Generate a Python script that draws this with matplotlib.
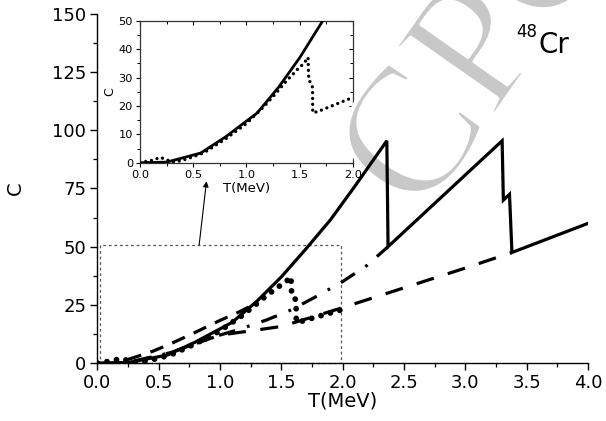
import matplotlib
matplotlib.use("Agg")
import matplotlib.pyplot as plt
import matplotlib.patheffects as pe
from matplotlib.ticker import MultipleLocator

plt.rcParams['font.family'] = ['DejaVu Sans']
plt.rcParams['lines.scale_dashes'] = False

# Specific heat C(T) of 48Cr in different approaches
t_exact = [0.0, 0.25, 0.57, 0.8, 1.1, 1.3, 1.5, 1.7, 1.9, 2.1, 2.36, 2.37, 3.30, 3.31, 3.36, 3.38, 4.0]
c_exact = [0.0, 0.2, 3.4, 9.0, 17.5, 26.5, 37.0, 49.0, 61.5, 76.0, 95.5, 50.0, 95.5, 70.0, 72.5, 47.5, 60.0]

t_bcs = [0.0, 0.12, 0.19, 0.3, 0.36, 0.43, 0.5, 0.6, 0.8, 1.0, 1.17, 1.275, 1.375, 1.48, 1.54, 1.578,
         1.585, 1.61, 1.62, 1.622, 1.67, 1.8, 2.0]
c_bcs = [0.0, 0.9, 1.9, 0.3, 0.5, 1.2, 2.1, 3.5, 8.3, 13.8, 20.0, 24.4, 28.8, 32.9, 35.0, 37.1,
         29.0, 27.9, 26.5, 17.6, 18.0, 20.0, 23.0]

t_upper = [0.25, 0.45, 0.6, 0.8, 1.0, 1.15, 1.3]
c_upper = [1.5, 5.0, 8.3, 13.2, 18.3, 21.8, 25.8]

t_mid = [0.3, 0.6, 0.8, 1.0, 1.16, 1.38, 1.58, 1.8, 2.0, 2.2, 2.37]
c_mid = [0.8, 4.5, 8.3, 12.0, 14.5, 18.5, 22.8, 29.0, 35.0, 42.0, 50.0]

t_low = [0.3, 0.6, 0.8, 1.0, 1.25, 1.5, 1.75, 2.0, 2.5, 3.0, 3.38]
c_low = [0.8, 4.5, 8.3, 12.0, 13.8, 15.7, 19.7, 23.8, 32.3, 40.8, 47.5]

x_ticks_main = [0.0, 0.5, 1.0, 1.5, 2.0, 2.5, 3.0, 3.5, 4.0]
y_ticks_main = [0, 25, 50, 75, 100, 125, 150]
x_ticks_inset = [0.0, 0.5, 1.0, 1.5, 2.0]
y_ticks_inset = [0, 10, 20, 30, 40, 50]

fig = plt.figure(figsize=(6.06, 4.21), dpi=100)
fig.patch.set_facecolor('white')

# light background lettering: above the inset, below the main curves;
# a thin white outline over the fill keeps the strokes light
fig.text(0.80, 0.875, 'CPC', fontsize=132, family='Liberation Serif', color='#c8c8c8',
         rotation=55, rotation_mode='anchor', ha='center', va='center', zorder=1,
         path_effects=[pe.Normal(), pe.Stroke(linewidth=3, foreground='white')])

ax = fig.add_axes([0.1606, 0.1378, 0.8097, 0.829], zorder=2)
ax.set_facecolor('none')
ax.plot(t_exact, c_exact, color='black', lw=2.3, solid_joinstyle='miter', zorder=5)
ax.plot(t_bcs, c_bcs, color='black', lw=4.2, linestyle=(0, (0.01, 7.0)),
        dash_capstyle='round', zorder=4)
ax.plot(t_upper, c_upper, color='black', lw=2.3, linestyle=(0, (10, 7)), zorder=3)
ax.plot(t_mid, c_mid, color='black', lw=2.3, linestyle=(0, (12, 9, 2, 9)), zorder=3)
ax.plot(t_low, c_low, color='black', lw=2.3, linestyle=(0, (13, 10.5)), zorder=3)

# region shown enlarged in the inset
ax.plot([0.02, 1.99, 1.99, 0.02, 0.02], [0, 0, 50.7, 50.7, 0], color='#555555', lw=0.9,
        linestyle=(0, (2, 2)), clip_on=False, zorder=2)
ax.annotate('', xy=(0.89, 78.1), xytext=(0.83, 50.7),
            arrowprops=dict(arrowstyle='-|>', lw=0.8, color='black', mutation_scale=8,
                            shrinkA=0, shrinkB=0), annotation_clip=False)

ax.set_xlim(0, 4)
ax.set_ylim(0, 150)
ax.set_xticks(x_ticks_main)
ax.set_xticklabels([f'{v:.1f}' for v in x_ticks_main])
ax.set_yticks(y_ticks_main)
ax.set_yticklabels([str(v) for v in y_ticks_main])
ax.xaxis.set_minor_locator(MultipleLocator(0.25))
ax.yaxis.set_minor_locator(MultipleLocator(12.5))
ax.spines['top'].set_visible(False)
ax.spines['right'].set_visible(False)
for s in ('left', 'bottom'):
    ax.spines[s].set_linewidth(1.0)
ax.tick_params(which='major', direction='out', length=5, width=1.0, labelsize=13, pad=3)
ax.tick_params(which='minor', direction='out', length=3, width=0.9)
ax.set_xlabel('T(MeV)', fontsize=14)
ax.set_ylabel('C', fontsize=14)
ax.xaxis.set_label_coords(0.5, -0.108)
ax.xaxis.label.set_va('center')
ax.yaxis.set_label_coords(-0.168, 0.5)
ax.yaxis.label.set_va('center')

fig.text(516 / 606, 1 - 37 / 421, '48', fontsize=12, ha='left', va='baseline', zorder=3)
fig.text(538 / 606, 1 - 53 / 421, 'Cr', fontsize=20, ha='left', va='baseline', zorder=3)

# inset: low-temperature detail
ins = fig.add_axes([0.231, 0.6135, 0.3515, 0.3373], zorder=0)
ins.set_facecolor('none')
ins.plot(t_exact, c_exact, color='black', lw=2.0, zorder=5)
ins.plot(t_bcs, c_bcs, color='black', lw=2.4, linestyle=(0, (0.01, 4.2)),
         dash_capstyle='round', zorder=4)
ins.set_xlim(0, 2)
ins.set_ylim(0, 50)
ins.set_xticks(x_ticks_inset)
ins.set_xticklabels([f'{v:.1f}' for v in x_ticks_inset])
ins.set_yticks(y_ticks_inset)
ins.set_yticklabels([str(v) for v in y_ticks_inset])
ins.xaxis.set_minor_locator(MultipleLocator(0.25))
ins.yaxis.set_minor_locator(MultipleLocator(5))
for s in ins.spines.values():
    s.set_linewidth(0.9)
    s.set_color('#333333')
ins.tick_params(which='both', top=True, right=True)
ins.tick_params(which='major', direction='out', length=3, width=0.8, labelsize=8.2, pad=2)
ins.tick_params(which='minor', direction='out', length=2, width=0.7)
for tk in ins.xaxis.get_major_ticks() + ins.xaxis.get_minor_ticks():
    tk.tick2line.set_marker(3)
for tk in ins.yaxis.get_major_ticks() + ins.yaxis.get_minor_ticks():
    tk.tick2line.set_marker(0)
ins.set_xlabel('T(MeV)', fontsize=9.5)
ins.set_ylabel('C', fontsize=9)
ins.xaxis.set_label_coords(0.5, -0.18)
ins.xaxis.label.set_va('center')
ins.yaxis.set_label_coords(-0.14, 0.5)
ins.yaxis.label.set_va('center')

fig.savefig('out.png', dpi=100)
